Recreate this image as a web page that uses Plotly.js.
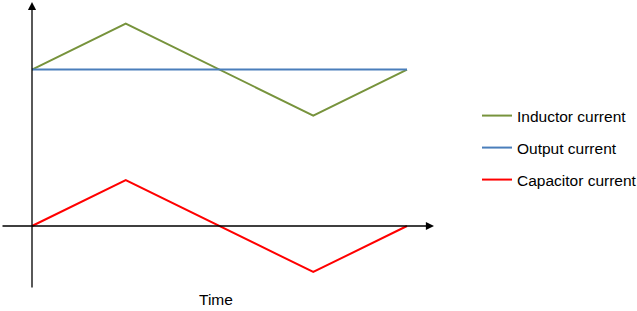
<!DOCTYPE html>
<html>
<head>
<meta charset="utf-8">
<script src="https://cdn.plot.ly/plotly-3.0.1.min.js"></script>
<style>html,body{margin:0;padding:0;background:#fff;}</style>
</head>
<body>
<div id="chart" style="width:637px;height:311px;"></div>
<script>
// ---- data ----
const time = [0, 1, 3, 4];
const timeOut = [0, 4];
const inductorCurrent = [3.4, 4.4, 2.4, 3.4];
const outputCurrent = [3.4, 3.4];
const capacitorCurrent = [0, 1, -1, 0];
const seriesNames = ["Inductor current", "Output current", "Capacitor current"];
const seriesColors = ["#77933C", "#4A7EBB", "#FF0000"];
const xLabel = "Time";

// ---- geometry (pixel -> data mapping for a 0-margin plot) ----
const W = 637, H = 311;
const x0px = 32, xUnit = 93.75;
const y0px = 226, yUnit = 46;
const xr = [(0 - x0px) / xUnit, (W - x0px) / xUnit];
const yr = [(y0px - H) / yUnit, (y0px - 0) / yUnit];
const px2x = p => (p - x0px) / xUnit;
const px2y = p => (y0px - p) / yUnit;

const font = {family: "Liberation Sans, Arial, sans-serif", size: 15.5, color: "#000"};

const traces = [
  {x: time, y: inductorCurrent, name: seriesNames[0], legend: "legend",
   mode: "lines", line: {color: seriesColors[0], width: 2}},
  {x: timeOut, y: outputCurrent, name: seriesNames[1], legend: "legend2",
   mode: "lines", line: {color: seriesColors[1], width: 2}},
  {x: time, y: capacitorCurrent, name: seriesNames[2], legend: "legend3",
   mode: "lines", line: {color: seriesColors[2], width: 2}}
];

const legendX = 477 / W;
function leg(ycenter) {
  return {x: legendX, xanchor: "left", y: 1 - ycenter / H, yanchor: "middle",
          font: font, bgcolor: "rgba(0,0,0,0)", borderwidth: 0};
}

const layout = {
  width: W, height: H,
  margin: {l: 0, r: 0, t: 0, b: 0, pad: 0, autoexpand: false},
  paper_bgcolor: "#fff", plot_bgcolor: "#fff",
  showlegend: true,
  legend: leg(116), legend2: leg(148), legend3: leg(180),
  xaxis: {range: xr, visible: false, fixedrange: true},
  yaxis: {range: yr, visible: false, fixedrange: true},
  annotations: [
    // y axis with arrow
    {x: 0, y: px2y(2), ax: 0, ay: px2y(289), xref: "x", yref: "y", axref: "x", ayref: "y",
     text: "", showarrow: true, arrowhead: 2, arrowsize: 1.25, arrowwidth: 1.3, arrowcolor: "#000", standoff: 0},
    // x axis with arrow
    {x: px2x(434), y: 0, ax: px2x(1), ay: 0, xref: "x", yref: "y", axref: "x", ayref: "y",
     text: "", showarrow: true, arrowhead: 2, arrowsize: 1.25, arrowwidth: 1.3, arrowcolor: "#000", standoff: 0},
    // axis label
    {x: px2x(216), y: px2y(299), xref: "x", yref: "y", text: xLabel, showarrow: false,
     font: font, xanchor: "center", yanchor: "middle"}
  ]
};

Plotly.newPlot("chart", traces, layout, {displayModeBar: false, staticPlot: true});
</script>
</body>
</html>
